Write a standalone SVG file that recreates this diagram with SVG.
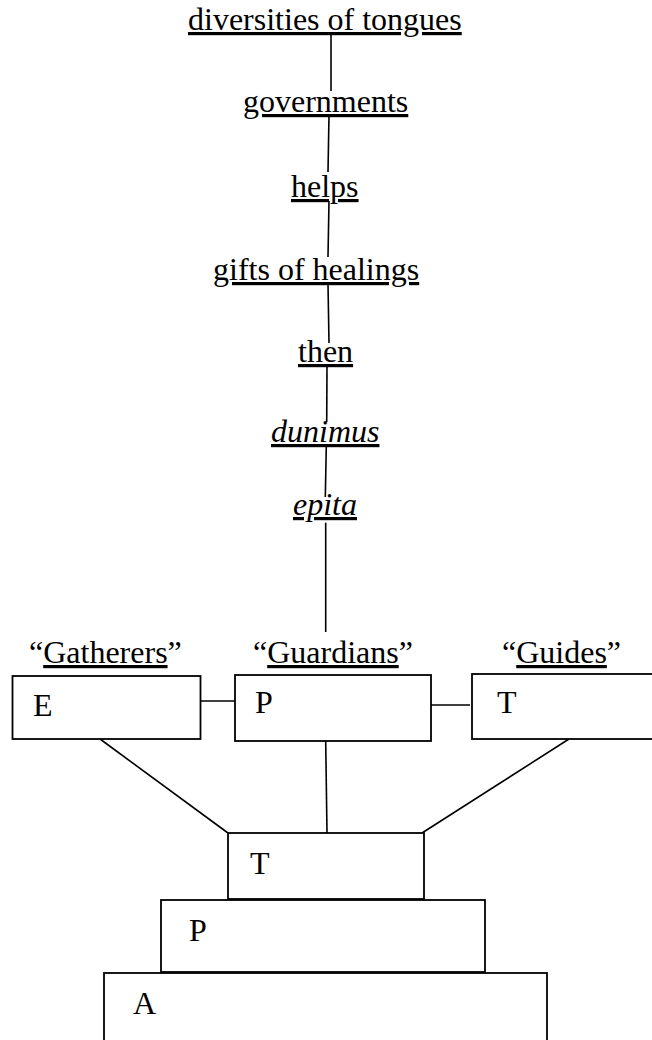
<svg xmlns="http://www.w3.org/2000/svg" width="652" height="1040" viewBox="0 0 652 1040">
<style>
text{font-family:"Liberation Serif","Times New Roman",serif;font-size:32px;fill:#000}
.u{text-decoration:underline}
.i{font-style:italic}
.box{fill:#fff;stroke:#000;stroke-width:1.8}
.c line{stroke:#000;stroke-width:1.6;fill:none}
</style>
<rect width="652" height="1040" fill="#fff"/>
<g id="connectors" class="c">
<line x1="331" y1="34" x2="331" y2="91"/>
<line x1="329" y1="115" x2="328" y2="172"/>
<line x1="329" y1="201" x2="328" y2="257"/>
<line x1="328" y1="284" x2="329" y2="343"/>
<line x1="327" y1="366" x2="326.7" y2="422"/>
<line x1="326.3" y1="446" x2="325.3" y2="497"/>
<line x1="325.7" y1="522.7" x2="325.7" y2="632"/>
<line x1="201" y1="701" x2="235" y2="701"/>
<line x1="431" y1="705" x2="470" y2="705"/>
<line x1="100" y1="739" x2="228" y2="833"/>
<line x1="325.7" y1="741" x2="327" y2="833"/>
<line x1="569" y1="739" x2="422" y2="833"/>
</g>
<g id="n-tongues"><text x="188" y="30" class="u">diversities of tongues</text></g>
<g id="n-governments"><text x="243" y="112" class="u">governments</text></g>
<g id="n-helps"><text x="291" y="197" class="u">helps</text></g>
<g id="n-healings"><text x="213" y="280" class="u">gifts of healings</text></g>
<g id="n-then"><text x="298" y="362" class="u">then</text></g>
<g id="n-dunimus"><text x="271" y="442" class="u i">dunimus</text></g>
<g id="n-epita"><text x="293" y="515" class="u i">epita</text></g>
<g id="n-gatherers">
<text x="29" y="663">“<tspan class="u">Gatherers</tspan>”</text>
<rect class="box" x="12.5" y="676" width="188" height="63"/>
<text x="33" y="716">E</text>
</g>
<g id="n-guardians">
<text x="253" y="663">“<tspan class="u">Guardians</tspan>”</text>
<rect class="box" x="235" y="675" width="196" height="66"/>
<text x="255" y="713">P</text>
</g>
<g id="n-guides">
<text x="502" y="663">“<tspan class="u">Guides</tspan>”</text>
<rect class="box" x="472" y="674" width="195" height="65"/>
<text x="497" y="713">T</text>
</g>
<g id="n-T">
<rect class="box" x="228" y="833" width="196" height="66"/>
<text x="250" y="874">T</text>
</g>
<g id="n-P">
<rect class="box" x="161" y="900" width="324" height="72"/>
<text x="189" y="941">P</text>
</g>
<g id="n-A">
<rect class="box" x="104" y="973" width="443" height="80"/>
<text x="133" y="1014">A</text>
</g>
</svg>
